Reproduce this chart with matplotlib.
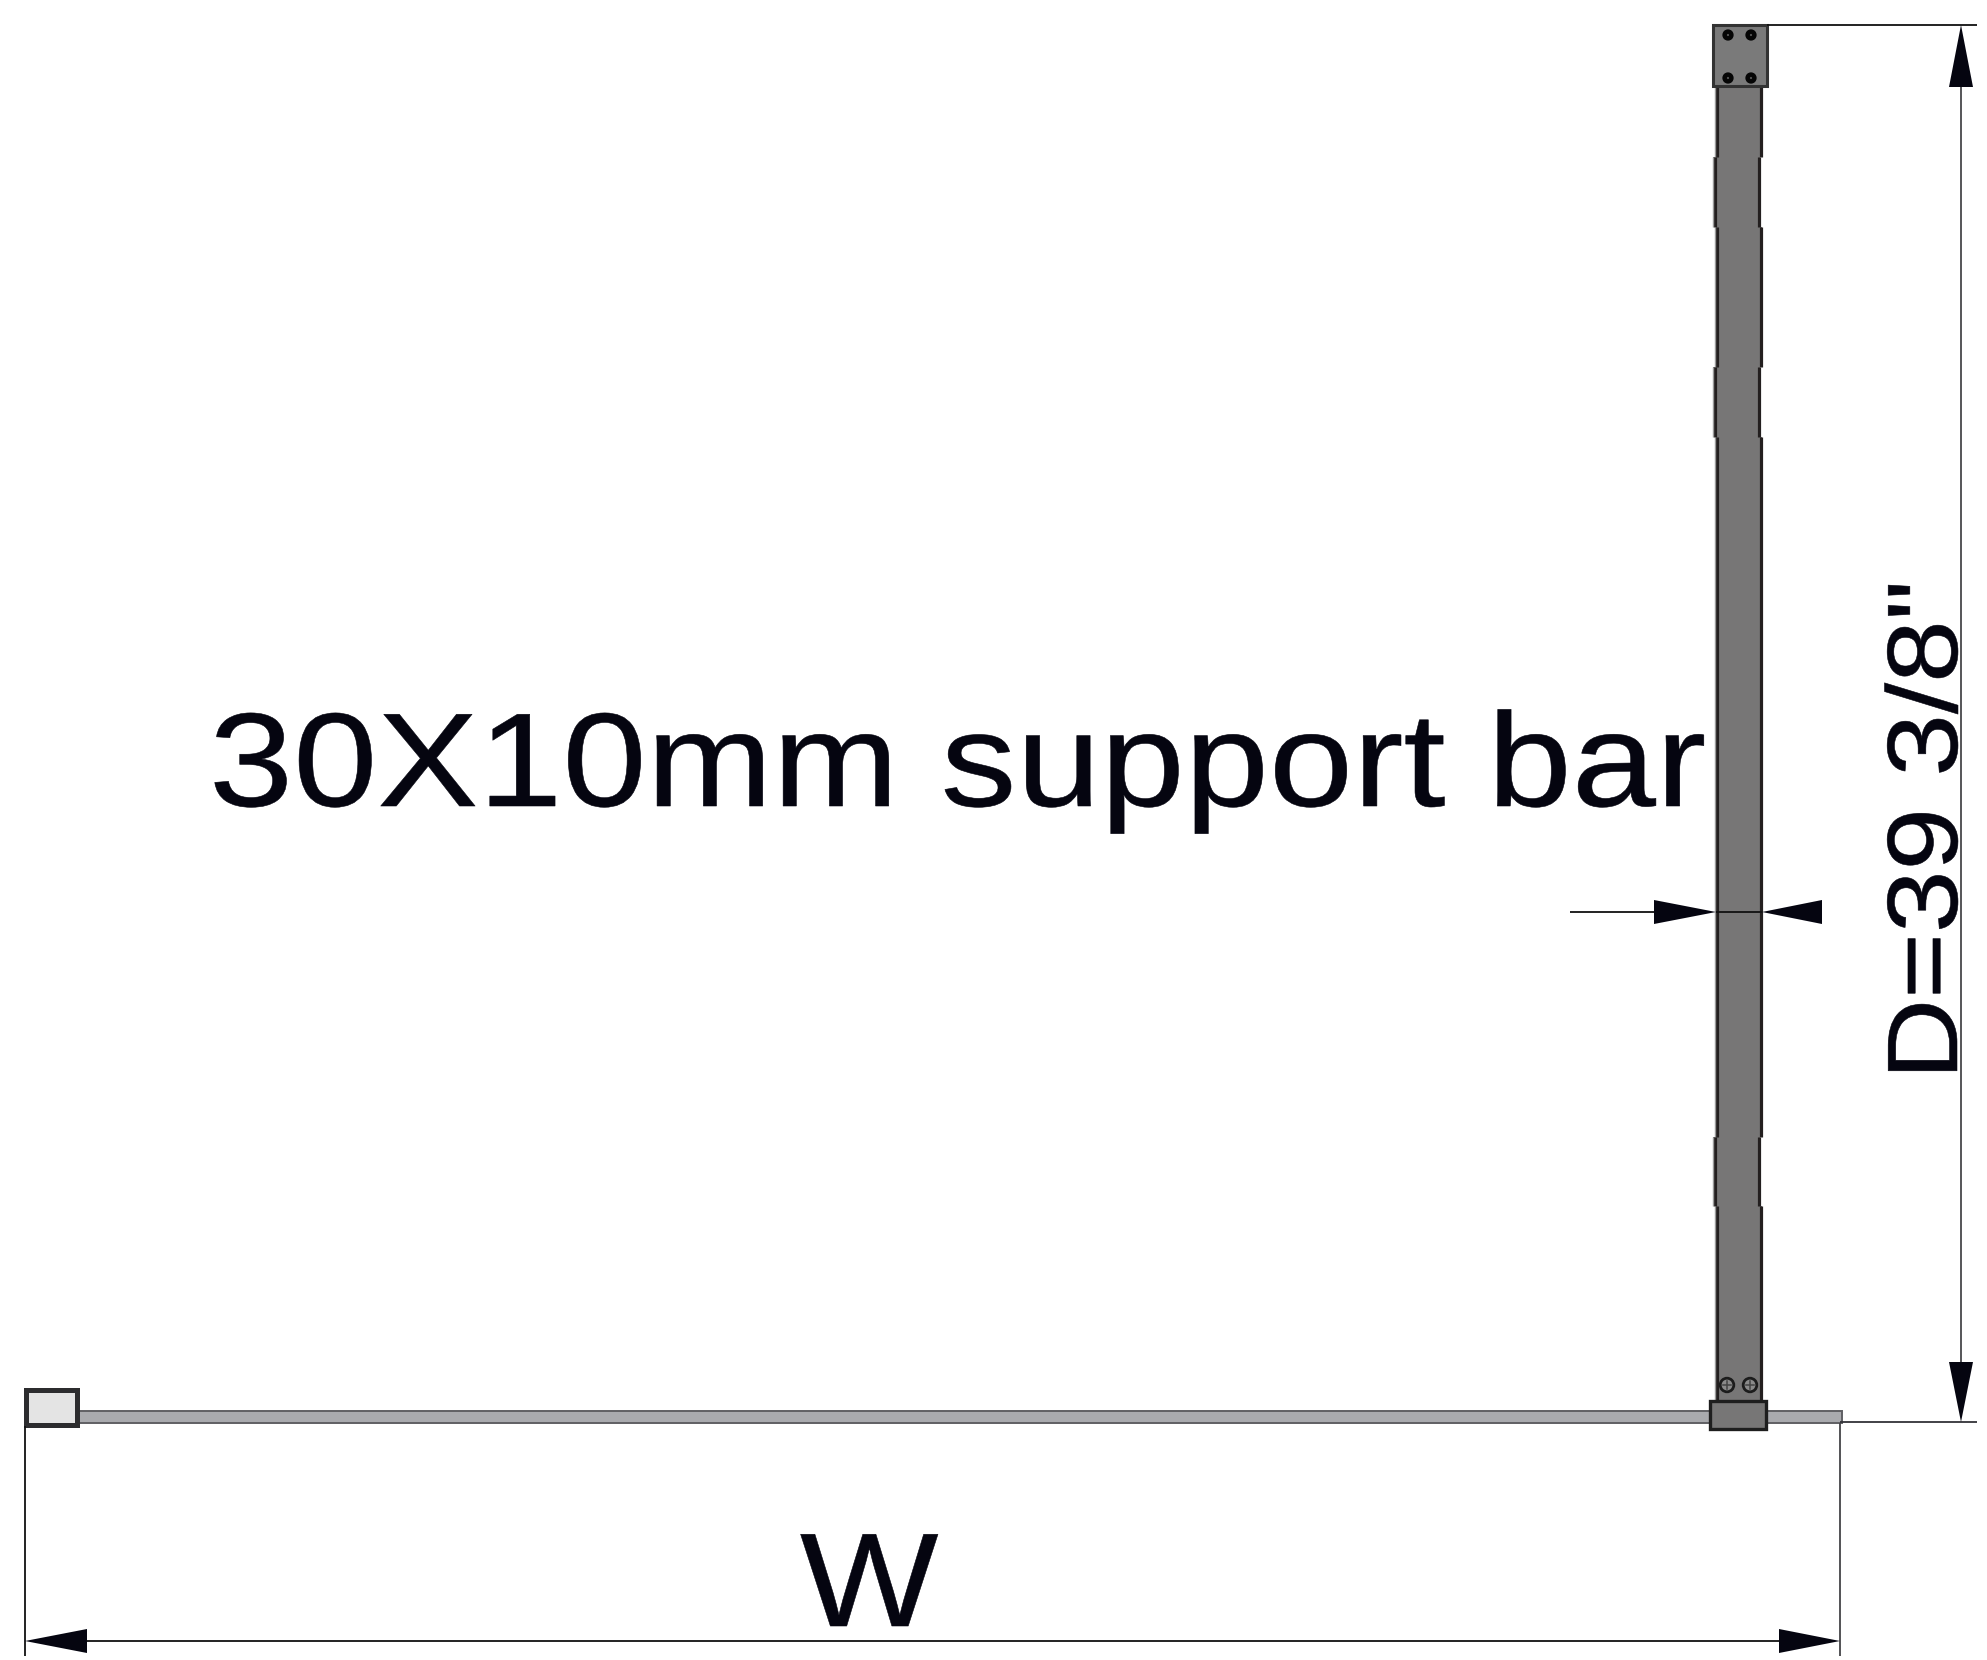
import matplotlib
matplotlib.use("Agg")
from matplotlib import pyplot as plt
from matplotlib.patches import Rectangle, Circle, Polygon
from matplotlib.patheffects import AbstractPathEffect
from matplotlib.transforms import Affine2D

W_PX = 1987
H_PX = 1660

# everything below is in image pixels, y going down
bar_left = 1717
bar_right = 1761
bar_seg_top = [87, 157, 227, 367, 437, 1137, 1206]
bar_seg_bottom = [157, 227, 367, 437, 1137, 1206, 1402]
bar_seg_shift = [0, -1.7, 0, -1.7, 0, -1.7, 0]

top_screw_x = [1728, 1751]
top_screw_y = [35, 78]
bottom_screw_x = [1727, 1750]
bottom_screw_y = [1385, 1385]

label_text = "30X10mm support bar"
depth_text = 'D=39 3/8"'
width_text = "W"

DARK = "#050510"
LINE = "#333338"


class Stretch(AbstractPathEffect):
    # widen the letters, the drawing has them about 12% wider than the font
    def __init__(self, sx, sy, x0, y0, stroke=1.0):
        super().__init__()
        self.m = Affine2D().translate(-x0, -y0).scale(sx, sy).translate(x0, y0)
        self.stroke = stroke

    def draw_path(self, renderer, gc, tpath, affine, rgbFace=None):
        gc0 = renderer.new_gc()
        gc0.copy_properties(gc)
        gc0.set_linewidth(self.stroke)
        gc0.set_foreground(rgbFace)
        renderer.draw_path(gc0, tpath, affine + self.m, rgbFace)
        gc0.restore()


def arrow(ax, tip, base, half=12):
    if tip[0] == base[0]:
        pts = [tip, (base[0] - half, base[1]), (base[0] + half, base[1])]
    else:
        pts = [tip, (base[0], base[1] - half), (base[0], base[1] + half)]
    ax.add_patch(Polygon(pts, closed=True, fc=DARK, ec="none", zorder=6))


def dim_line(ax, xs, ys, color=LINE, lw=1.3):
    ax.plot(xs, ys, color=color, lw=lw, solid_capstyle="butt", zorder=5)


fig = plt.figure(figsize=(W_PX / 100, H_PX / 100), dpi=100)
ax = fig.add_axes([0, 0, 1, 1])
ax.set_xlim(0, W_PX)
ax.set_ylim(H_PX, 0)
ax.axis("off")

# glass panel along the bottom
ax.add_patch(Rectangle((79, 1411), 1763, 12, fc="#a9aaae", ec="#5f5f63", lw=1.4, zorder=2))

# wall profile, left
ax.add_patch(Rectangle((26, 1390), 51, 35, fc="#e4e4e4", ec="#2c2c2e", lw=3.6, zorder=3))

# support bar
for top, bottom, shift in zip(bar_seg_top, bar_seg_bottom, bar_seg_shift):
    l = bar_left + shift
    r = bar_right + shift
    ax.add_patch(Rectangle((l - 2, top), r - l + 3, bottom - top, fc="#777676", ec="none", zorder=3))
    ax.plot([l, l], [top, bottom], color="#231f1f", lw=2.3, solid_capstyle="butt", zorder=4)
    ax.plot([r, r], [top, bottom], color="#231f1f", lw=2.3, solid_capstyle="butt", zorder=4)
    ax.plot([l - 2.5, l - 2.5], [top, bottom], color="#9a9a9a", lw=1.0, solid_capstyle="butt", zorder=4)

# top plate and screws
ax.add_patch(Rectangle((1713, 25), 54, 61, fc="#7a7a7a", ec="#333333", lw=2.2, zorder=5))
for sx in top_screw_x:
    for sy in top_screw_y:
        ax.add_patch(Circle((sx, sy), 3.4, fc="#555555", ec="#050505", lw=3.2, zorder=6))

# bottom clamp and screws
ax.add_patch(Rectangle((1710, 1401), 56, 28, fc="#777676", ec="#1e1e1e", lw=2.4, zorder=5))
for sx, sy in zip(bottom_screw_x, bottom_screw_y):
    ax.add_patch(Circle((sx, sy), 6.8, fc="#8a8a8a", ec="#1c1c1c", lw=2.0, zorder=6))
    ax.plot([sx - 4, sx + 4], [sy, sy], color="#444444", lw=1.1, zorder=7)
    ax.plot([sx, sx], [sy - 4, sy + 4], color="#444444", lw=1.1, zorder=7)

# depth dimension on the right
dim_line(ax, [1767, 1977], [25, 25], color="#111111")
dim_line(ax, [1840, 1977], [1422, 1422])
dim_line(ax, [1961, 1961], [87, 1362], color="#555558", lw=1.4)
arrow(ax, (1961, 25), (1961, 87))
arrow(ax, (1961, 1422), (1961, 1362))

# width dimension
dim_line(ax, [25, 25], [1426, 1656], color="#111111")
dim_line(ax, [1840, 1840], [1423, 1656], color="#444448")
dim_line(ax, [87, 1779], [1641, 1641], color="#111111")
arrow(ax, (25, 1641), (87, 1641))
arrow(ax, (1840, 1641), (1779, 1641))

# bar thickness dimension
dim_line(ax, [1570, 1654], [912, 912], color="#111111")
dim_line(ax, [1716, 1762], [912, 912], color="#111111")
arrow(ax, (1716, 912), (1654, 912))
arrow(ax, (1762, 912), (1822, 912))

font = "Liberation Sans"

t = ax.text(209, 806, label_text, family=font, fontsize=96, color=DARK,
            ha="left", va="baseline", zorder=8)
t.set_path_effects([Stretch(1.135, 1.0, 209, H_PX - 806, stroke=0.4)])

t = ax.text(800, 1626, width_text, family=font, fontsize=96, color=DARK,
            ha="left", va="baseline", zorder=8)
t.set_path_effects([Stretch(1.10, 1.0, 800, H_PX - 1626, stroke=0.4)])

t = ax.text(1957, 1080, depth_text, family=font, fontsize=72, color=DARK,
            rotation=90, rotation_mode="anchor", ha="left", va="baseline", zorder=8)
t.set_path_effects([Stretch(1.0, 1.125, 1957, H_PX - 1080, stroke=0.4)])

fig.savefig("out.png", dpi=100, facecolor="white")
